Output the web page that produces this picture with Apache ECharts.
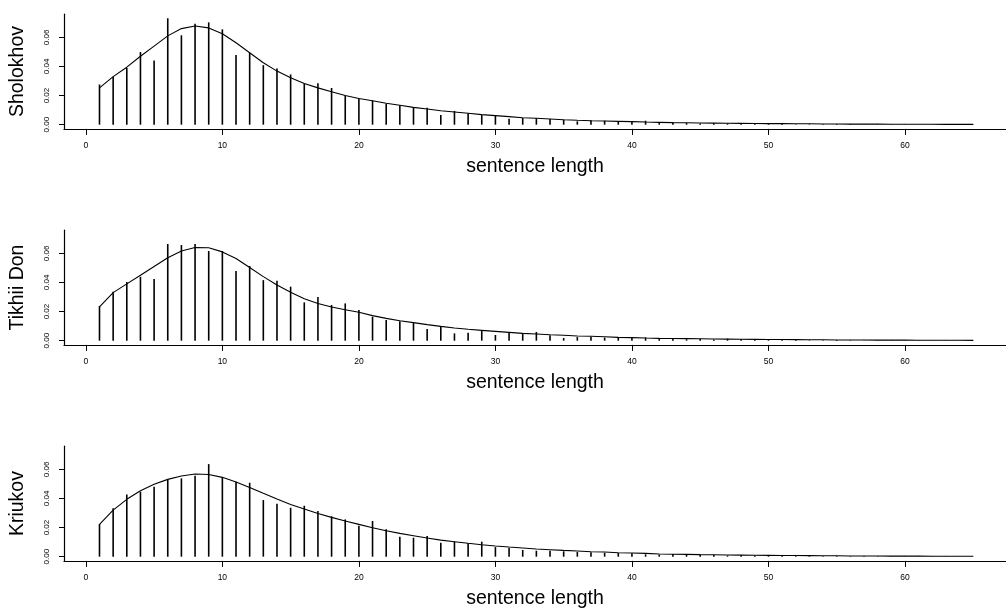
<!DOCTYPE html>
<html>
<head>
<meta charset="utf-8">
<script src="https://cdn.jsdelivr.net/npm/echarts@6/dist/echarts.min.js"></script>
<style>
html,body{margin:0;padding:0;background:#fff;}
#chart{width:1006px;height:610px;}
</style>
</head>
<body>
<div id="chart"></div>
<script>
// sentence lengths 1..65
const lengths = Array.from({length: 65}, (_, i) => i + 1);

const panelNames = ["Sholokhov", "Tikhii Don", "Kriukov"];

const sholokhovFreq = [0.0276,0.0329,0.0389,0.0499,0.0441,0.0731,0.0614,0.0694,0.0703,0.0655,
  0.0478,0.0494,0.0409,0.0386,0.0345,0.0283,0.0285,0.0252,0.0199,0.0181,
  0.0165,0.0144,0.0133,0.0119,0.0117,0.0067,0.0094,0.0078,0.0066,0.0062,
  0.0041,0.0046,0.0044,0.0039,0.0034,0.0023,0.0030,0.0027,0.0021,0.0021,
  0.0027,0.0016,0.0015,0.0012,0.0008,0.0010,0.0009,0.0008,0.0008,0.0007,
  0.0006,0.0003,0.0003,0.0003,0.0005,0.0004,0.0002,0.0002,0.0002,0.0002,
  0.0001,0.0001,0.0001,0.0001,0.0001];
const sholokhovFit = [0.0253,0.0330,0.0395,0.0470,0.0540,0.0610,0.0660,0.0678,0.0665,0.0625,
  0.0563,0.0494,0.0425,0.0368,0.0322,0.0283,0.0253,0.0226,0.0200,0.0180,
  0.0164,0.0147,0.0133,0.0119,0.0108,0.0096,0.0087,0.0078,0.0069,0.0062,
  0.0055,0.0048,0.0044,0.0039,0.0034,0.0030,0.0027,0.0025,0.0023,0.0021,
  0.0018,0.0016,0.0014,0.0013,0.0012,0.0011,0.0010,0.0009,0.0008,0.0007,
  0.0007,0.0006,0.0006,0.0005,0.0005,0.0004,0.0004,0.0004,0.0003,0.0003,
  0.0003,0.0003,0.0002,0.0002,0.0002];

const tikhiiFreq = [0.0238,0.0336,0.0403,0.0439,0.0423,0.0664,0.0657,0.0664,0.0616,0.0616,
  0.0478,0.0513,0.0416,0.0412,0.0371,0.0263,0.0300,0.0245,0.0256,0.0210,
  0.0165,0.0142,0.0133,0.0126,0.0080,0.0098,0.0050,0.0055,0.0071,0.0039,
  0.0053,0.0046,0.0060,0.0037,0.0018,0.0025,0.0027,0.0021,0.0023,0.0021,
  0.0023,0.0014,0.0012,0.0010,0.0012,0.0008,0.0013,0.0012,0.0008,0.0006,
  0.0007,0.0005,0.0003,0.0003,0.0005,0.0003,0.0002,0.0002,0.0002,0.0002,
  0.0002,0.0001,0.0002,0.0001,0.0001];
const tikhiiFit = [0.0233,0.0330,0.0390,0.0450,0.0510,0.0570,0.0616,0.0640,0.0638,0.0610,
  0.0565,0.0503,0.0440,0.0382,0.0332,0.0288,0.0255,0.0231,0.0213,0.0195,
  0.0172,0.0153,0.0137,0.0124,0.0110,0.0098,0.0087,0.0078,0.0071,0.0064,
  0.0057,0.0050,0.0046,0.0041,0.0037,0.0032,0.0030,0.0027,0.0023,0.0021,
  0.0018,0.0016,0.0015,0.0014,0.0013,0.0012,0.0011,0.0010,0.0009,0.0008,
  0.0008,0.0007,0.0006,0.0006,0.0005,0.0005,0.0005,0.0004,0.0004,0.0004,
  0.0003,0.0003,0.0003,0.0003,0.0002];

const kriukovFreq = [0.0224,0.0332,0.0428,0.0446,0.0480,0.0531,0.0538,0.0556,0.0636,0.0545,
  0.0515,0.0508,0.0389,0.0364,0.0336,0.0350,0.0314,0.0277,0.0256,0.0213,
  0.0245,0.0188,0.0137,0.0130,0.0142,0.0096,0.0103,0.0092,0.0103,0.0066,
  0.0062,0.0046,0.0041,0.0041,0.0037,0.0032,0.0030,0.0027,0.0025,0.0023,
  0.0016,0.0014,0.0018,0.0012,0.0012,0.0011,0.0008,0.0009,0.0008,0.0007,
  0.0006,0.0006,0.0004,0.0003,0.0004,0.0003,0.0003,0.0003,0.0002,0.0002,
  0.0002,0.0002,0.0002,0.0001,0.0001];
const kriukovFit = [0.0222,0.0320,0.0394,0.0453,0.0497,0.0531,0.0554,0.0568,0.0565,0.0545,
  0.0513,0.0476,0.0435,0.0396,0.0359,0.0327,0.0297,0.0270,0.0245,0.0222,
  0.0199,0.0178,0.0160,0.0144,0.0128,0.0114,0.0103,0.0092,0.0082,0.0073,
  0.0066,0.0060,0.0053,0.0048,0.0043,0.0039,0.0034,0.0032,0.0027,0.0025,
  0.0023,0.0018,0.0017,0.0016,0.0014,0.0013,0.0012,0.0011,0.0010,0.0009,
  0.0008,0.0008,0.0007,0.0006,0.0006,0.0005,0.0005,0.0005,0.0004,0.0004,
  0.0004,0.0003,0.0003,0.0003,0.0003];

const xTicks = [0, 10, 20, 30, 40, 50, 60];
const yTicks = [0, 0.02, 0.04, 0.06];
const xTitle = "sentence length";

const freqs = [sholokhovFreq, tikhiiFreq, kriukovFreq];
const fits = [sholokhovFit, tikhiiFit, kriukovFit];

const FONT = "'Liberation Sans', Arial, Helvetica, sans-serif";
const tops = [14.2, 230.2, 446.2];
const H = 114.7;

const grids = [], xAxes = [], yAxes = [], series = [];
panelNames.forEach((name, i) => {
  grids.push({left: 63, right: 0, top: tops[i], height: H, containLabel: false});
  xAxes.push({
    type: 'value', gridIndex: i, min: -1.6, max: 67.4,
    name: xTitle, nameLocation: 'middle', nameGap: 28,
    nameTextStyle: {fontFamily: FONT, fontSize: 19.5, color: '#000'},
    splitLine: {show: false},
    axisLine: {show: true, onZero: false, lineStyle: {color: '#000', width: 1.2}},
    axisTick: {show: true, length: 6, customValues: xTicks, lineStyle: {color: '#000', width: 1}},
    axisLabel: {customValues: xTicks, margin: 12, fontFamily: FONT, fontSize: 8.5, color: '#000'}
  });
  yAxes.push({
    type: 'value', gridIndex: i, min: -0.0029, max: 0.0759,
    name: name, nameLocation: 'middle', nameGap: 36,
    nameTextStyle: {fontFamily: FONT, fontSize: 19.5, color: '#000'},
    splitLine: {show: false},
    axisLine: {show: true, onZero: false, lineStyle: {color: '#000', width: 1.2}},
    axisTick: {show: true, length: 5, customValues: yTicks, lineStyle: {color: '#000', width: 1}},
    axisLabel: {customValues: yTicks, rotate: 90, margin: 13, fontFamily: FONT, fontSize: 8, color: '#000',
      formatter: v => v.toFixed(2)}
  });
  series.push({
    type: 'bar', xAxisIndex: i, yAxisIndex: i, barWidth: 1.6,
    itemStyle: {color: '#000'}, silent: true,
    data: lengths.map((x, k) => [x, freqs[i][k]])
  });
  series.push({
    type: 'line', xAxisIndex: i, yAxisIndex: i, symbol: 'none', z: 3,
    lineStyle: {color: '#000', width: 1.1}, silent: true,
    data: lengths.map((x, k) => [x, fits[i][k]])
  });
});

const chart = echarts.init(document.getElementById('chart'), null, {renderer: 'canvas'});
chart.setOption({
  animation: false,
  backgroundColor: '#fff',
  grid: grids, xAxis: xAxes, yAxis: yAxes, series: series
});
</script>
</body>
</html>
